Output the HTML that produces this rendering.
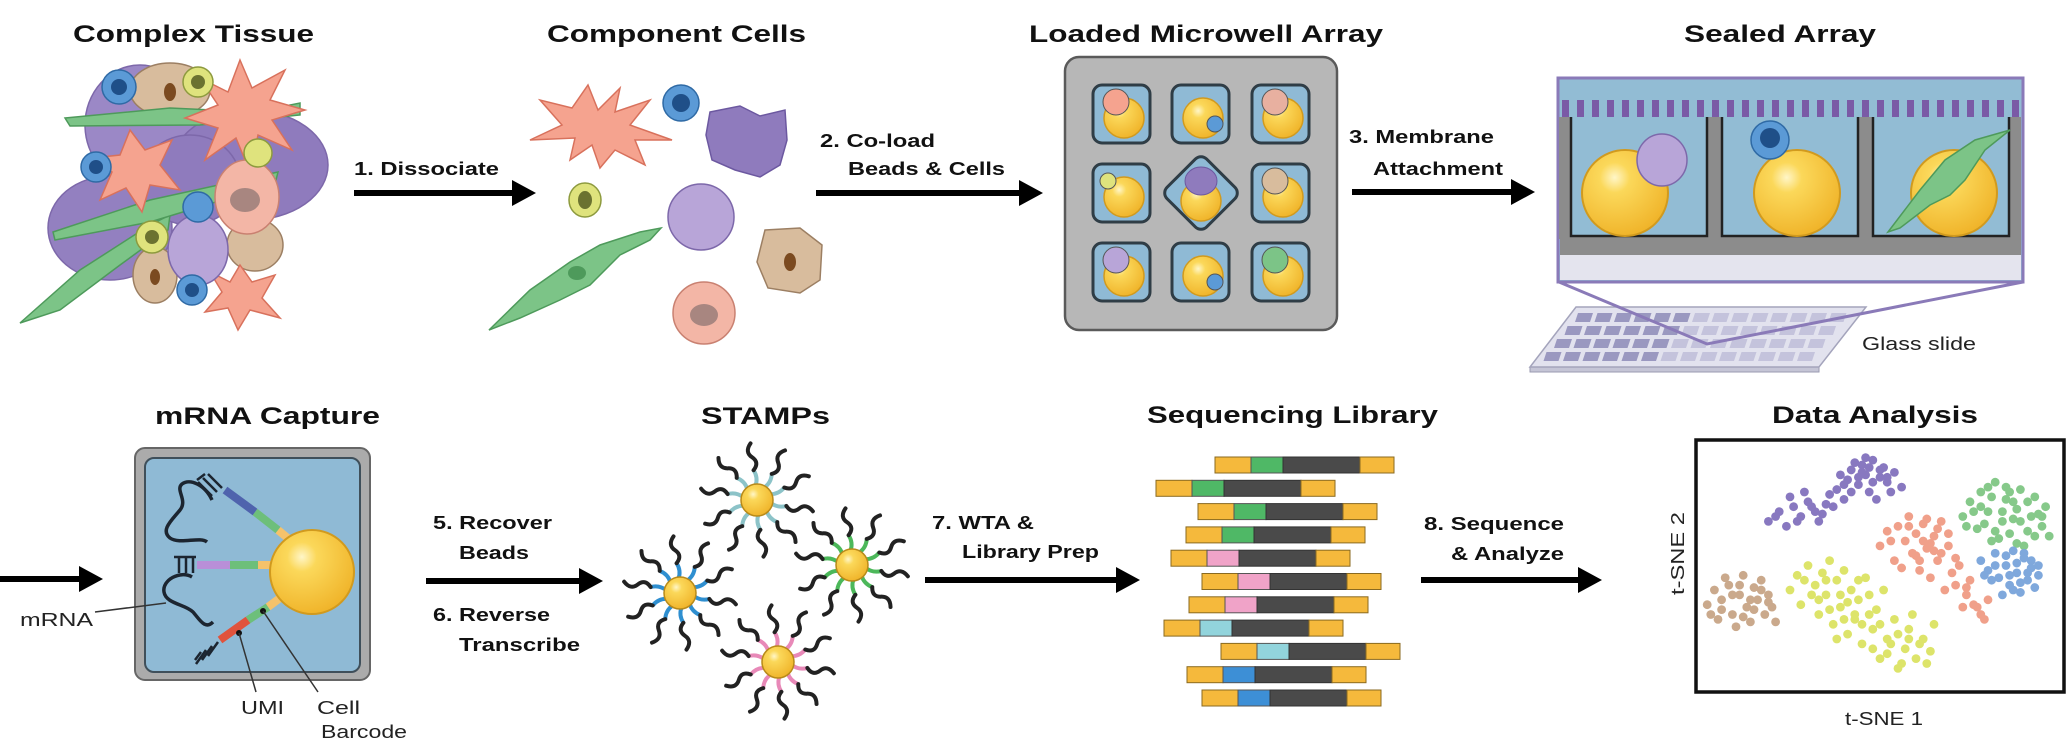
<!DOCTYPE html>
<html>
<head>
<meta charset="utf-8">
<style>
html,body{margin:0;padding:0;background:#fff;}
svg{display:block;}
.t{font-family:"Liberation Sans",sans-serif;font-weight:bold;font-size:24px;fill:#111;}
.l{font-family:"Liberation Sans",sans-serif;font-weight:bold;font-size:18px;fill:#111;}
.s{font-family:"Liberation Sans",sans-serif;font-size:18px;fill:#222;}
</style>
</head>
<body>
<svg id="fig" width="2072" height="742" viewBox="0 0 2072 742" xmlns="http://www.w3.org/2000/svg">
<defs>
  <radialGradient id="bead" cx="0.38" cy="0.32" r="0.7">
    <stop offset="0" stop-color="#fff6c8"/>
    <stop offset="0.25" stop-color="#fbd85a"/>
    <stop offset="1" stop-color="#f0b42a"/>
  </radialGradient>
</defs>

<!-- Titles -->
<text class="t" x="73" y="42" textLength="241" lengthAdjust="spacingAndGlyphs">Complex Tissue</text>
<text class="t" x="547" y="42" textLength="259" lengthAdjust="spacingAndGlyphs">Component Cells</text>
<text class="t" x="1029" y="42" textLength="354" lengthAdjust="spacingAndGlyphs">Loaded Microwell Array</text>
<text class="t" x="1684" y="42" textLength="192" lengthAdjust="spacingAndGlyphs">Sealed Array</text>
<text class="t" x="155" y="424" textLength="225" lengthAdjust="spacingAndGlyphs">mRNA Capture</text>
<text class="t" x="701" y="424" textLength="129" lengthAdjust="spacingAndGlyphs">STAMPs</text>
<text class="t" x="1147" y="423" textLength="291" lengthAdjust="spacingAndGlyphs">Sequencing Library</text>
<text class="t" x="1772" y="423" textLength="206" lengthAdjust="spacingAndGlyphs">Data Analysis</text>

<!-- Step labels -->
<text class="l" x="354" y="175" textLength="145" lengthAdjust="spacingAndGlyphs">1. Dissociate</text>
<text class="l" x="820" y="147" textLength="115" lengthAdjust="spacingAndGlyphs">2. Co-load</text>
<text class="l" x="848" y="175" textLength="157" lengthAdjust="spacingAndGlyphs">Beads &amp; Cells</text>
<text class="l" x="1349" y="143" textLength="145" lengthAdjust="spacingAndGlyphs">3. Membrane</text>
<text class="l" x="1373" y="175" textLength="130" lengthAdjust="spacingAndGlyphs">Attachment</text>
<text class="l" x="433" y="529" textLength="119" lengthAdjust="spacingAndGlyphs">5. Recover</text>
<text class="l" x="459" y="559" textLength="70" lengthAdjust="spacingAndGlyphs">Beads</text>
<text class="l" x="433" y="621" textLength="117" lengthAdjust="spacingAndGlyphs">6. Reverse</text>
<text class="l" x="459" y="651" textLength="121" lengthAdjust="spacingAndGlyphs">Transcribe</text>
<text class="l" x="932" y="529" textLength="102" lengthAdjust="spacingAndGlyphs">7. WTA &amp;</text>
<text class="l" x="962" y="558" textLength="137" lengthAdjust="spacingAndGlyphs">Library Prep</text>
<text class="l" x="1424" y="530" textLength="140" lengthAdjust="spacingAndGlyphs">8. Sequence</text>
<text class="l" x="1451" y="560" textLength="113" lengthAdjust="spacingAndGlyphs">&amp; Analyze</text>

<!-- Arrows -->
<g fill="#000" stroke="#000">
  <g><line x1="354" y1="193" x2="515" y2="193" stroke-width="6"/><polygon points="512,180 536,193 512,206" stroke="none"/></g>
  <g><line x1="816" y1="193" x2="1022" y2="193" stroke-width="6"/><polygon points="1019,180 1043,193 1019,206" stroke="none"/></g>
  <g><line x1="1352" y1="192" x2="1514" y2="192" stroke-width="6"/><polygon points="1511,179 1535,192 1511,205" stroke="none"/></g>
  <g><line x1="0" y1="579" x2="82" y2="579" stroke-width="6"/><polygon points="79,566 103,579 79,592" stroke="none"/></g>
  <g><line x1="426" y1="581" x2="582" y2="581" stroke-width="6"/><polygon points="579,568 603,581 579,594" stroke="none"/></g>
  <g><line x1="925" y1="580" x2="1119" y2="580" stroke-width="6"/><polygon points="1116,567 1140,580 1116,593" stroke="none"/></g>
  <g><line x1="1421" y1="580" x2="1581" y2="580" stroke-width="6"/><polygon points="1578,567 1602,580 1578,593" stroke="none"/></g>
</g>

<!-- Complex tissue -->
<g stroke-width="1.5">
  <ellipse cx="140" cy="125" rx="55" ry="60" fill="#9b88c6" stroke="#7d68aa"/>
  <ellipse cx="250" cy="165" rx="78" ry="55" fill="#8f7bbd" stroke="#7d68aa"/>
  <ellipse cx="110" cy="228" rx="62" ry="52" fill="#9380c0" stroke="#7d68aa"/>
  <ellipse cx="190" cy="180" rx="50" ry="45" fill="#8f7bbd" stroke="#7d68aa"/>
  <ellipse cx="170" cy="90" rx="40" ry="27" fill="#d8bc9d" stroke="#9c7f63"/>
  <ellipse cx="155" cy="275" rx="22" ry="28" fill="#d8bc9d" stroke="#9c7f63"/>
  <ellipse cx="255" cy="245" rx="28" ry="26" fill="#d8bc9d" stroke="#9c7f63"/>
  <path d="M20,323 L80,270 L150,225 L170,215 L168,230 L120,265 L60,310 Z" fill="#7cc487" stroke="#4e9a5b"/>
  <path d="M53,232 L150,200 L278,172 L275,184 L150,222 L55,240 Z" fill="#7cc487" stroke="#4e9a5b"/>
  <path d="M65,118 L170,108 L255,112 L300,103 L300,115 L200,125 L70,126 Z" fill="#7cc487" stroke="#4e9a5b"/>
  <polygon points="240,60 252,88 285,70 270,100 305,110 272,120 292,150 258,135 250,172 236,138 205,160 218,128 185,118 218,105 200,78 228,92" fill="#f5a38f" stroke="#d8715c"/>
  <polygon points="130,130 145,150 172,140 160,165 180,190 150,185 142,212 126,188 100,200 112,172 92,158 120,155" fill="#f5a38f" stroke="#d8715c"/>
  <polygon points="240,265 252,282 275,275 262,298 280,318 250,310 238,330 228,308 205,312 222,292 210,272 230,282" fill="#f5a38f" stroke="#d8715c"/>
  <ellipse cx="247" cy="197" rx="32" ry="37" fill="#f3b6a6" stroke="#c98171"/>
  <ellipse cx="245" cy="200" rx="15" ry="12" fill="#a88680"/>
  <ellipse cx="198" cy="250" rx="30" ry="35" fill="#b8a5d8" stroke="#7d68aa"/>
  <circle cx="119" cy="87" r="17" fill="#5b9ad6" stroke="#2f6aa5"/><circle cx="119" cy="87" r="8" fill="#1f4f88"/>
  <circle cx="96" cy="167" r="15" fill="#5b9ad6" stroke="#2f6aa5"/><circle cx="96" cy="167" r="7" fill="#1f4f88"/>
  <circle cx="198" cy="207" r="15" fill="#5b9ad6" stroke="#2f6aa5"/>
  <circle cx="192" cy="290" r="15" fill="#5b9ad6" stroke="#2f6aa5"/><circle cx="192" cy="290" r="7" fill="#1f4f88"/>
  <circle cx="198" cy="82" r="15" fill="#dfe37d" stroke="#8d9a3e"/><circle cx="198" cy="82" r="7" fill="#6b7230"/>
  <circle cx="152" cy="237" r="16" fill="#dfe37d" stroke="#8d9a3e"/><circle cx="152" cy="237" r="7" fill="#6b7230"/>
  <circle cx="258" cy="153" r="14" fill="#dfe37d" stroke="#8d9a3e"/>
  <ellipse cx="170" cy="92" rx="6" ry="9" fill="#7b4a20"/>
  <ellipse cx="155" cy="277" rx="5" ry="8" fill="#7b4a20"/>
</g>

<!-- Component cells -->
<g stroke-width="1.5">
  <polygon points="588,85 598,110 620,88 615,112 650,100 630,125 672,140 635,140 645,165 615,150 600,168 592,145 570,160 575,138 530,140 562,125 540,100 572,108" fill="#f5a38f" stroke="#d8715c"/>
  <circle cx="681" cy="103" r="18" fill="#5b9ad6" stroke="#2f6aa5"/><circle cx="681" cy="103" r="9" fill="#1f4f88"/>
  <path d="M710,112 L740,106 L760,116 L785,110 L787,140 L780,165 L760,177 L735,170 L712,160 L706,135 Z" fill="#8f7bbd" stroke="#6c58a0"/>
  <ellipse cx="585" cy="200" rx="16" ry="17" fill="#dfe37d" stroke="#8d9a3e"/><ellipse cx="585" cy="200" rx="7" ry="9" fill="#6b7230"/>
  <ellipse cx="701" cy="217" rx="33" ry="33" fill="#b8a5d8" stroke="#7d68aa"/>
  <path d="M489,330 L530,290 L570,262 L600,245 L640,232 L661,228 L650,240 L620,255 L590,285 L560,300 L520,318 Z" fill="#7cc487" stroke="#4e9a5b"/>
  <ellipse cx="577" cy="273" rx="9" ry="7" fill="#4e9a5b"/>
  <path d="M765,230 L800,228 L822,245 L820,280 L800,293 L768,288 L757,262 Z" fill="#d8bc9d" stroke="#9c7f63"/><ellipse cx="790" cy="262" rx="6" ry="9" fill="#7b4a20"/>
  <circle cx="704" cy="313" r="31" fill="#f3b6a6" stroke="#c98171"/><ellipse cx="704" cy="315" rx="14" ry="11" fill="#a88680"/>
</g>

<!-- Microwell array -->
<g>
  <rect x="1065" y="57" width="272" height="273" rx="14" fill="#b7b7b7" stroke="#5a5a5a" stroke-width="2.5"/>
  <g id="wells"></g>
</g>

<!-- Sealed array -->
<g>
  <g>
    <polygon points="1530,367 1819,367 1819,372 1530,372" fill="#c5c5d6" stroke="#9a9ab0"/>
    <polygon points="1576,307 1866,307 1819,367 1530,367" fill="#e2e2ee" stroke="#a4a4bc" stroke-width="1.5"/>
    <g id="slide-grid"></g>
  </g>
  <polyline points="1559,282 1707,344 2023,282" fill="none" stroke="#8a7ab8" stroke-width="3"/>
  <rect x="1558" y="78" width="465" height="204" fill="#92bcd4" stroke="#8a7ab8" stroke-width="3"/>
  <rect x="1560" y="255" width="461" height="25" fill="#e4e4ee"/>
  <rect x="1560" y="237" width="461" height="18" fill="#8c8c8c"/>
  <g id="membrane-dashes"></g>
  <g id="sealed-wells"></g>
  <ellipse cx="1662" cy="160" rx="25" ry="26" fill="#b8a5d8" stroke="#7d68aa" stroke-width="1.5"/>
  <circle cx="1770" cy="140" r="19" fill="#5b9ad6" stroke="#2f6aa5" stroke-width="1.5"/><circle cx="1770" cy="138" r="10" fill="#1f4f88"/>
  <path d="M1888,232 L1920,190 L1945,160 L1975,140 L2010,130 L1985,150 L1965,180 L1950,195 L1930,205 L1900,228 Z" fill="#7cc487" stroke="#4e9a5b" stroke-width="1.5"/>
  <text class="s" x="1862" y="350" textLength="114" lengthAdjust="spacingAndGlyphs">Glass slide</text>
</g>

<!-- mRNA capture -->
<g>
  <rect x="135" y="448" width="235" height="232" rx="10" fill="#ababab" stroke="#666" stroke-width="2"/>
  <rect x="145" y="458" width="215" height="214" rx="9" fill="#8fbad5" stroke="#3f4f5a" stroke-width="2"/>
  <g stroke-width="8" stroke-linecap="butt">
    <line x1="290" y1="540" x2="278" y2="530" stroke="#f5c26b"/>
    <line x1="278" y1="530" x2="255" y2="512" stroke="#6dbf7a"/>
    <line x1="255" y1="512" x2="225" y2="490" stroke="#4f63ad"/>
    <line x1="272" y1="565" x2="258" y2="565" stroke="#f5c26b"/>
    <line x1="258" y1="565" x2="230" y2="565" stroke="#6dbf7a"/>
    <line x1="230" y1="565" x2="197" y2="565" stroke="#b98fd8"/>
    <line x1="280" y1="598" x2="268" y2="607" stroke="#f5c26b"/>
    <line x1="268" y1="607" x2="248" y2="620" stroke="#6dbf7a"/>
    <line x1="248" y1="620" x2="220" y2="640" stroke="#e0533c"/>
  </g>
  <g fill="none" stroke="#1c2530" stroke-width="2.5">
    <path d="M222,488 l-14,-14 M217,492 l-14,-14 M212,496 l-14,-14 M205,474 l-8,6"/>
    <path d="M193,557 v16 M186,557 v16 M179,557 v16 M174,557 h22"/>
    <path d="M218,642 l-10,14 M212,646 l-10,14 M206,650 l-10,14 M195,660 l6,-8"/>
    <path d="M212,500 C205,485 190,478 182,484 C175,490 188,500 180,510 C172,520 160,530 170,538 C180,545 200,536 207,542" stroke-width="3.5"/>
    <path d="M192,577 C180,570 162,580 164,592 C166,604 185,604 193,612 C200,620 205,630 213,622" stroke-width="3.5"/>
  </g>
  <circle cx="312" cy="572" r="42" fill="url(#bead)" stroke="#d19a1e" stroke-width="2"/>
  <line x1="95" y1="612" x2="166" y2="603" stroke="#333" stroke-width="1.5"/>
  <circle cx="263" cy="611" r="3" fill="#111"/><circle cx="239" cy="633" r="3" fill="#111"/>
  <line x1="239" y1="633" x2="256" y2="692" stroke="#333" stroke-width="1.5"/>
  <line x1="263" y1="611" x2="318" y2="692" stroke="#333" stroke-width="1.5"/>
  <text class="s" x="20" y="626" textLength="73" lengthAdjust="spacingAndGlyphs">mRNA</text>
  <text class="s" x="241" y="714" textLength="43" lengthAdjust="spacingAndGlyphs">UMI</text>
  <text class="s" x="317" y="714" textLength="43" lengthAdjust="spacingAndGlyphs">Cell</text>
  <text class="s" x="321" y="738" textLength="86" lengthAdjust="spacingAndGlyphs">Barcode</text>
</g>

<g id="stamps"></g>
<g id="library"></g>

<!-- Data analysis -->
<g>
  <rect x="1696" y="440" width="368" height="252" fill="#fff" stroke="#111" stroke-width="3.5"/>
  <g id="scatter"></g>
  <text class="s" x="1845" y="725" textLength="78" lengthAdjust="spacingAndGlyphs">t-SNE 1</text>
  <text class="s" transform="translate(1684,595) rotate(-90)" x="0" y="0" textLength="83" lengthAdjust="spacingAndGlyphs">t-SNE 2</text>
</g>
</svg>

<script>
// ---- t-SNE scatter data (arbitrary t-SNE units, 0-100) ----
var purpleX=[19,22,24,26,28,30,32,33,35,36,38,40,41,42,44,45,46,47,48,50,51,52,54,56,25,29,43,49,39,37,21,27,31,34,40,44,46,48,50,53,42,45,47,52];
var purpleY=[68,72,66,74,70,76,72,68,75,79,81,77,85,89,83,91,87,80,93,86,90,84,88,82,78,80,92,77,87,74,70,68,74,71,83,86,94,84,89,80,80,88,90,86];
var greenX=[73,75,77,78,80,81,82,84,85,86,88,89,90,92,93,95,96,97,79,83,87,91,94,76,85,88,74,78,81,84,86,89,91,93,95,82,80,87];
var greenY=[70,76,65,80,72,60,84,68,77,63,73,81,58,70,78,66,74,62,67,61,69,64,71,72,82,59,66,74,78,72,80,68,76,62,70,64,82,76];
var blueX=[78,80,82,83,85,86,87,88,89,90,91,92,93,94,84,81,88,90,79,82,86,89,92,94,85,87,91];
var blueY=[52,48,55,45,50,42,56,47,39,53,44,49,41,46,38,44,51,55,46,50,46,43,52,50,54,40,47];
var salmonX=[50,52,54,55,57,58,59,60,61,62,63,64,65,66,67,68,69,70,72,74,75,76,78,80,56,60,64,71,73,66,53,58,62,65,67,69,71,74,77,79,61,63];
var salmonY=[58,64,52,66,60,70,55,63,48,67,57,45,62,52,68,40,58,47,50,38,44,34,30,36,49,54,59,42,33,65,60,66,60,56,55,63,53,41,33,28,52,69];
var yellowX=[25,27,28,30,32,33,34,35,36,37,38,39,40,41,42,43,44,45,46,47,48,50,52,54,55,57,58,60,62,64,65,31,36,41,49,53,59,44,38,51,29,33,39,43,47,50,52,56,58,61,63,45,40,35,48,55];
var yellowY=[40,46,34,50,42,30,47,38,52,26,44,33,48,22,40,28,36,18,45,30,24,12,20,28,8,16,24,12,20,15,26,38,32,35,32,18,30,44,20,40,44,36,38,30,38,26,14,10,20,18,10,26,28,44,16,22];
var tanX=[2,4,5,6,8,9,10,11,12,13,14,15,16,17,18,19,20,21,7,12,3,6,9,14,17,11,15,19];
var tanY=[34,40,28,36,42,30,25,38,46,33,27,41,36,44,30,38,33,27,45,29,30,32,38,36,40,42,32,35];
var clusterNames=['purple','green','blue','salmon','yellow','tan'];
var clusterColors=['#8878c0','#86c98a','#7fa8dc','#f0a08a','#dde46a','#caa98c'];

// ---- sequencing library data ----
var barcodeColors=['#4fb866','#4fb866','#4fb866','#4fb866','#f0a3c8','#f0a3c8','#f0a3c8','#92d4dc','#92d4dc','#3d8fd6','#3d8fd6'];
var readOffsets=[59,0,42,30,15,46,33,8,65,31,46];

var NS='http://www.w3.org/2000/svg';
function mk(tag,attrs,parent){var e=document.createElementNS(NS,tag);for(var k in attrs)e.setAttribute(k,attrs[k]);parent.appendChild(e);return e;}

// axis functions for scatter
function sx(v){return 1700+v*3.6;}
function sy(v){return 688-v*2.45;}
var scatter=document.getElementById('scatter');
var allX=[purpleX,greenX,blueX,salmonX,yellowX,tanX];
var allY=[purpleY,greenY,blueY,salmonY,yellowY,tanY];
for(var c=0;c<allX.length;c++){
  var g=mk('g',{},scatter);
  
  
  for(var i=0;i<allX[c].length;i++){
    var p=mk('circle',{cx:sx(allX[c][i]),cy:sy(allY[c][i]),r:4.4,fill:clusterColors[c]},g);
    
    
  }
}

// library bars
var lib=document.getElementById('library');
for(var r=0;r<barcodeColors.length;r++){
  var x0=1156+readOffsets[r], y0=457+r*23.3;
  var g=mk('g',{},lib);
  
  
  mk('rect',{x:x0,y:y0,width:36,height:16,fill:'#f5b93c',stroke:'#8a6a20','stroke-width':1},g);
  mk('rect',{x:x0+36,y:y0,width:32,height:16,fill:barcodeColors[r],stroke:'#555','stroke-width':1},g);
  mk('rect',{x:x0+68,y:y0,width:77,height:16,fill:'#4a4a4a',stroke:'#333','stroke-width':1},g);
  mk('rect',{x:x0+145,y:y0,width:34,height:16,fill:'#f5b93c',stroke:'#8a6a20','stroke-width':1},g);
}

// microwells
var wells=document.getElementById('wells');
var wx=[1093,1172,1252], wy=[85,164,243];
var cellCols=['#f5a38f','#5b9ad6','#e8b0a0','#dfe37d',null,'#d8bc9d','#b8a5d8','#5b9ad6','#7cc487'];
for(var j=0;j<3;j++)for(var i=0;i<3;i++){
  var k=j*3+i, cx=wx[i]+29, cy=wy[j]+29;
  var g=mk('g',{},wells);
  
  
  if(k===4){
    mk('rect',{x:cx-28,y:cy-28,width:56,height:56,rx:8,fill:'#8fbad5',stroke:'#2f3d46','stroke-width':3,transform:'rotate(45 '+cx+' '+cy+')'},g);
    mk('circle',{cx:cx,cy:cy+8,r:20,fill:'url(#bead)',stroke:'#d19a1e','stroke-width':1.5},g);
    mk('ellipse',{cx:cx,cy:cy-12,rx:16,ry:14,fill:'#8f7bbd',stroke:'#6c58a0'},g);
  } else {
    mk('rect',{x:wx[i],y:wy[j],width:57,height:58,rx:9,fill:'#8fbad5',stroke:'#2f3d46','stroke-width':3},g);
    mk('circle',{cx:cx+2,cy:cy+4,r:20,fill:'url(#bead)',stroke:'#d19a1e','stroke-width':1.5},g);
    var small=(k===1||k===7||k===3);
    var ox=(k===1||k===7)?14:(k===3?-14:-6), oy=(k===1||k===7)?10:-12;
    mk('circle',{cx:cx+ox,cy:cy+oy,r:small?8:13,fill:cellCols[k],stroke:'#555','stroke-width':1},g);
  }
}

// sealed wells & membrane
var sw=document.getElementById('sealed-wells');
var sWellX=[1571,1722,1873], beadX=[1625,1797,1954];
for(var i=0;i<3;i++){
  var g=mk('g',{},sw);
  
  
  mk('rect',{x:sWellX[i]-12,y:117,width:12,height:122,fill:'#8c8c8c'},g);
  mk('rect',{x:sWellX[i]+136,y:117,width:12,height:122,fill:'#8c8c8c'},g);
  mk('path',{d:'M'+sWellX[i]+',117 V236 H'+(sWellX[i]+136)+' V117',fill:'none',stroke:'#222','stroke-width':2.5},g);
  mk('circle',{cx:beadX[i],cy:193,r:43,fill:'url(#bead)',stroke:'#d19a1e','stroke-width':2},g);
}
var md=document.getElementById('membrane-dashes');
for(var x=1562;x<2020;x+=15){
  var d=mk('rect',{x:x,y:100,width:7,height:17,fill:'#7a5aa6'},md);
  
  
}
var sg=document.getElementById('slide-grid');
for(var r=0;r<4;r++)for(var c=0;c<14;c++){
  var t=r/4, x=1578-t*42+c*19.5, y=313+r*13;
  var q=mk('polygon',{points:(x)+','+y+' '+(x+15)+','+y+' '+(x+12)+','+(y+9)+' '+(x-3)+','+(y+9),fill:c<6?'#9a98c0':'#c4c3dc'},sg);
  
  
}

// STAMPs
var st=document.getElementById('stamps');
var stampX=[757,680,852,778], stampY=[500,593,565,662];
var stampCols=['#8cc3c8','#2f8fd0','#4cb85a','#e889b8'];
for(var s=0;s<4;s++){
  var g=mk('g',{},st);
  
  
  for(var a=0;a<10;a++){
    var ang=a*Math.PI/5+0.2, ca=Math.cos(ang), sa=Math.sin(ang), pa=-sa, pb=ca;
    var x1=stampX[s]+ca*14, y1=stampY[s]+sa*14, x2=stampX[s]+ca*30, y2=stampY[s]+sa*30;
    mk('path',{d:'M'+x1+','+y1+' Q'+(stampX[s]+ca*22+pa*4)+','+(stampY[s]+sa*22+pb*4)+' '+x2+','+y2,fill:'none',stroke:stampCols[s],'stroke-width':4},g);
    var x3=stampX[s]+ca*43, y3=stampY[s]+sa*43, x4=stampX[s]+ca*57, y4=stampY[s]+sa*57;
    mk('path',{d:'M'+x2+','+y2+' Q'+(stampX[s]+ca*37+pa*7)+','+(stampY[s]+sa*37+pb*7)+' '+x3+','+y3+' T'+x4+','+y4,fill:'none',stroke:'#222','stroke-width':4,'stroke-linecap':'round'},g);
  }
  mk('circle',{cx:stampX[s],cy:stampY[s],r:16,fill:'url(#bead)',stroke:'#b88a1a','stroke-width':1.5},g);
}
</script>
</body>
</html>
